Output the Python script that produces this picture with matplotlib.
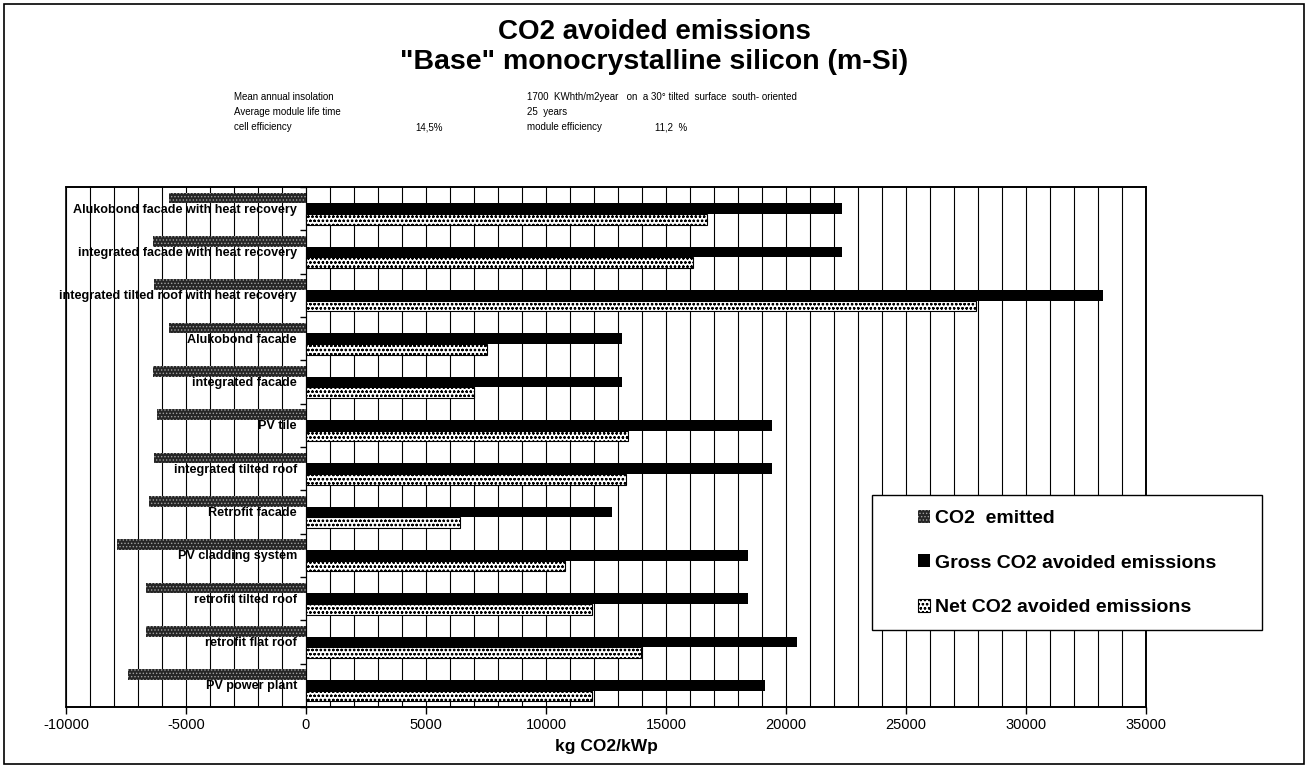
import matplotlib
matplotlib.use('Agg')
import matplotlib.pyplot as plt
from matplotlib.patches import Rectangle
import numpy as np

plt.rcParams['font.family'] = ['Liberation Sans', 'DejaVu Sans']
plt.rcParams['hatch.linewidth'] = 0.6

# data (kg CO2/kWp), top to bottom
categories = ['Alukobond facade with heat recovery',
              'integrated facade with heat recovery',
              'integrated tilted roof with heat recovery',
              'Alukobond facade',
              'integrated facade',
              'PV tile',
              'integrated tilted roof',
              'Retrofit facade',
              'PV cladding system',
              'retrofit tilted roof',
              'retrofit flat roof',
              'PV power plant']
co2_emitted = [-5700, -6380, -6330, -5700, -6380, -6200, -6330, -6540, -7880, -6670, -6670, -7420]
gross_avoided = [22330, 22330, 33200, 13170, 13170, 19420, 19420, 12750, 18420, 18420, 20460, 19120]
net_avoided = [16700, 16120, 27900, 7540, 7000, 13420, 13330, 6420, 10790, 11920, 13960, 11920]
xticks = [-10000, -5000, 0, 5000, 10000, 15000, 20000, 25000, 30000, 35000]

W, H = 1308, 768
fig = plt.figure(figsize=(W / 100, H / 100), dpi=100)
ax = fig.add_axes([66 / W, 1 - 707 / H, (1146 - 66) / W, (707 - 187) / H])

y = np.arange(len(categories))
h = 0.245

b1 = ax.barh(y - h, co2_emitted, height=h, color='#262626', edgecolor='#a0a0a0',
             linewidth=0, hatch='.....', zorder=3, label='CO2  emitted')
b2 = ax.barh(y, gross_avoided, height=h, color='black', linewidth=0, zorder=3,
             label='Gross CO2 avoided emissions')
b3 = ax.barh(y + h, net_avoided, height=h, color='white', edgecolor='black',
             linewidth=0.8, hatch='oooo', zorder=3, label='Net CO2 avoided emissions')

for i, name in enumerate(categories):
    ax.text(-380, i + 0.02, name, ha='right', va='center', fontsize=9.1,
            fontweight='bold', zorder=2.5)

ax.set_xlim(-10000, 35000)
ax.set_ylim(len(categories) - 0.5, -0.5)
ax.set_xticks(xticks)
ax.set_xticklabels([str(t) for t in xticks], fontsize=10.5)
ax.set_xticks(np.arange(-10000, 35001, 1000), minor=True)
ax.tick_params(axis='x', which='minor', length=0)
ax.tick_params(axis='x', which='major', direction='out', length=5, width=1, pad=3)
ax.grid(axis='x', which='both', color='black', linewidth=0.8)
ax.set_axisbelow(True)

# category axis crosses at zero
ax.spines['left'].set_position(('data', 0))
ax.spines['left'].set_linewidth(0.8)
ax.set_yticks(np.arange(len(categories) + 1) - 0.5)
ax.set_yticklabels([])
ax.tick_params(axis='y', direction='out', length=4, width=1)
for s in ['top', 'right', 'bottom']:
    ax.spines[s].set_linewidth(1.2)
ax.add_patch(Rectangle((0, 0), 1, 1, transform=ax.transAxes, fill=False,
                       edgecolor='black', linewidth=1.2, zorder=4, clip_on=False))

ax.set_xlabel('kg CO2/kWp', fontsize=12.5, fontweight='bold', labelpad=5)

# titles and notes
fig.text(0.5, 1 - 32 / H, 'CO2 avoided emissions', ha='center', va='center',
         fontsize=20, fontweight='bold')
fig.text(0.5, 1 - 62 / H, '"Base" monocrystalline silicon (m-Si)', ha='center',
         va='center', fontsize=20.5, fontweight='bold')
notes = [(234, 97, 'Mean annual insolation'),
         (527, 97, '1700  KWhth/m2year   on  a 30° tilted  surface  south- oriented'),
         (234, 112, 'Average module life time'),
         (527, 112, '25  years'),
         (234, 127, 'cell efficiency'),
         (415, 127, '14,5%'),
         (527, 127, 'module efficiency'),
         (655, 127, '11,2  %')]
for nx, ny, t in notes:
    fig.text(nx / W, 1 - ny / H, t, ha='left', va='center', fontsize=7)

# legend box
fig.patches.append(Rectangle((872 / W, 1 - 630 / H), (1262 - 872) / W, (630 - 495) / H,
                             transform=fig.transFigure, fill=True, facecolor='white',
                             edgecolor='black', linewidth=1, zorder=5))
leg = fig.legend(handles=[b1, b2, b3], loc='center left',
                 bbox_to_anchor=(900 / W, 1 - 563 / H), frameon=False,
                 prop={'size': 14, 'weight': 'bold'}, handlelength=0.65,
                 handleheight=0.65, handletextpad=0.25, labelspacing=1.4)
leg.set_zorder(6)

# outer frame
fig.patches.append(Rectangle((4 / W, 4 / H), (W - 8) / W, (H - 8) / H,
                             transform=fig.transFigure, fill=False,
                             edgecolor='black', linewidth=1.2))

fig.savefig('out.png', dpi=100, facecolor='white')
